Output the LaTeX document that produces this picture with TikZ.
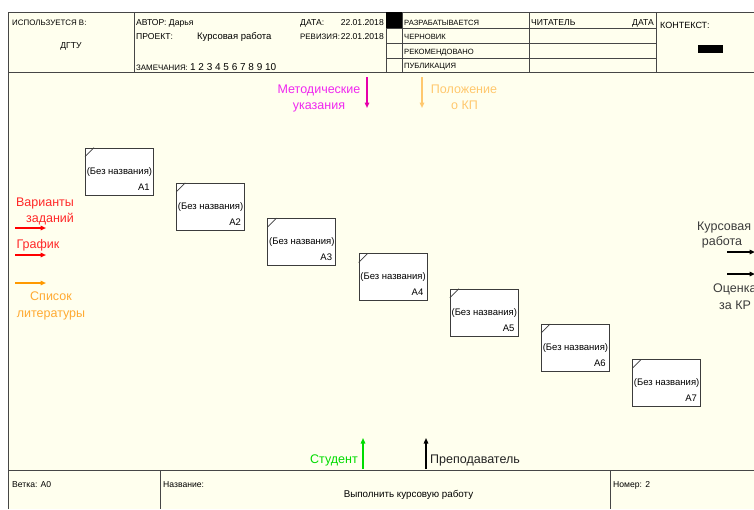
\documentclass[tikz,border=0pt]{standalone}
\usepackage{fontspec}
\setmainfont{Liberation Sans}
\usetikzlibrary{arrows.meta,calc}
\definecolor{cream}{RGB}{255,255,238}
\definecolor{frame}{RGB}{70,70,70}
\definecolor{mytxtmag}{RGB}{240,40,240}
\definecolor{myarrmag}{RGB}{230,0,170}
\definecolor{mylorange}{RGB}{255,200,110}
\definecolor{myorange}{RGB}{255,153,0}
\definecolor{myorangetxt}{RGB}{255,170,50}
\definecolor{myred}{RGB}{255,0,0}
\definecolor{myredtxt}{RGB}{255,40,40}
\definecolor{mygreen}{RGB}{0,220,0}
\definecolor{mygray}{RGB}{60,60,60}
\definecolor{mydark}{RGB}{35,35,35}
\newcommand{\hdrfont}{\fontsize{7.9}{9}\selectfont}
\newcommand{\stfont}{\fontsize{7.6}{9}\selectfont}
\newcommand{\midfont}{\fontsize{8.6}{10}\selectfont}
\newcommand{\lblfont}{\fontsize{12.5}{15}\selectfont}
\newcommand{\boxfont}{\fontsize{9.5}{11}\selectfont}
\begin{document}
\begin{tikzpicture}[x=1pt,y=-1pt,
  hdr/.style={inner sep=0pt,anchor=base west,font=\hdrfont},
  sthdr/.style={inner sep=0pt,anchor=base west,font=\stfont},
  mid/.style={inner sep=0pt,anchor=base west,font=\midfont},
  lbl/.style={inner sep=0pt,anchor=base,font=\lblfont},
  frameline/.style={draw=frame,line width=1pt},
  actbox/.style={draw=mygray,line width=0.9pt,fill=white,minimum width=68pt,minimum height=47pt,inner sep=0pt},
  boxtext/.style={inner sep=0pt,anchor=base,font=\boxfont},
  boxnum/.style={inner sep=0pt,anchor=base east,font=\boxfont},
  flow/.style={line width=1.6pt,-{Triangle[length=5.5pt,width=4.5pt]}}
]
\useasboundingbox (0,0) rectangle (754,509);
\fill[white] (0,0) rectangle (754,509);
\fill[cream] (8,12) rectangle (754,509);
% frame
\draw[frameline] (8,509) -- (8,12) -- (754,12);
\draw[frameline] (8,72) -- (754,72);
\draw[frameline] (8,470) -- (754,470);
\draw[frameline] (134,12) -- (134,72);
\draw[frameline] (386,12) -- (386,72);
\draw[frameline] (402,12) -- (402,72);
\draw[frameline] (529,12) -- (529,72);
\draw[frameline] (656,12) -- (656,72);
\draw[frameline] (386,28) -- (656,28);
\draw[frameline] (386,43) -- (656,43);
\draw[frameline] (386,58) -- (656,58);
\fill[black] (386,12) rectangle (402,28);
\fill[black] (698,45) rectangle (723,53);
\draw[frameline] (160,470) -- (160,509);
\draw[frameline] (610,470) -- (610,509);
% header text
\node[hdr] (usedat) at (12,25.5) {ИСПОЛЬЗУЕТСЯ В:};
\node[inner sep=0pt,anchor=base,font=\midfont] (dgtu) at (71,48) {ДГТУ};
\node[mid] (author) at (136,25.5) {АВТОР: Дарья};
\node[mid] (project) at (136,39.5) {ПРОЕКТ:};
\node[inner sep=0pt,anchor=base west,font=\fontsize{9.5}{11}\selectfont] (projname) at (197,39.5) {Курсовая работа};
\node[mid] (datelbl) at (300,25.5) {ДАТА:};
\node[mid,anchor=base east] (dateval) at (384,25.5) {22.01.2018};
\node[hdr] (revlbl) at (300,39.5) {РЕВИЗИЯ:};
\node[mid,anchor=base east] (revval) at (384,39.5) {22.01.2018};
\node[hdr] (notes) at (136,70) {ЗАМЕЧАНИЯ: {\fontsize{10}{11}\selectfont 1 2 3 4 5 6 7 8 9 10}};
\node[sthdr] (st1) at (404,25.5) {РАЗРАБАТЫВАЕТСЯ};
\node[sthdr] (st2) at (404,39.5) {ЧЕРНОВИК};
\node[sthdr] (st3) at (404,54.5) {РЕКОМЕНДОВАНО};
\node[sthdr] (st4) at (404,68.5) {ПУБЛИКАЦИЯ};
\node[mid] (reader) at (531,25.5) {ЧИТАТЕЛЬ};
\node[mid,anchor=base east] (rdate) at (654,25.5) {ДАТА};
\node[inner sep=0pt,anchor=base west,font=\fontsize{9}{11}\selectfont] (context) at (660,28) {КОНТЕКСТ:};
% footer text
\node[mid] (branch) at (12,487.5) {Ветка: A0};
\node[mid] (namelbl) at (163,487.5) {Название:};
\node[inner sep=0pt,anchor=base,font=\fontsize{9.8}{11}\selectfont] (title) at (408.5,497) {Выполнить курсовую работу};
\node[mid] (number) at (613,487.5) {Номер: 2};
% activity boxes
\foreach \i in {1,...,7}{
  \pgfmathsetmacro{\bx}{85+91.2*(\i-1)}
  \pgfmathsetmacro{\by}{147.5+35.3*(\i-1)}
  \node[actbox,anchor=north west] (A\i) at (\bx,\by) {};
  \draw[mygray,line width=0.7pt] ($(A\i.north west)+(0,9)$) -- ($(A\i.north west)+(9,0)$);
  \node[boxtext] (T\i) at ($(A\i.north)+(0,26.5)$) {(Без названия)};
  \node[boxnum] (N\i) at ($(A\i.north east)+(-4,42.5)$) {A\i};
}
% top controls
\coordinate (mS) at (367,77); \coordinate (mE) at (367,108);
\draw[flow,myarrmag] (mS) -- (mE);
\node[lbl,text=mytxtmag] (met1) at (319,93) {Методические};
\node[lbl,text=mytxtmag] (met2) at (319,109) {указания};
\coordinate (pS) at (422,77); \coordinate (pE) at (422,108);
\draw[flow,mylorange] (pS) -- (pE);
\node[lbl,text=mylorange] (pol1) at (464,93) {Положение};
\node[lbl,text=mylorange] (pol2) at (464.5,109) {о КП};
% left inputs
\node[lbl,text=myredtxt] (var1) at (45,206.5) {Варианты};
\node[lbl,text=myredtxt] (var2) at (50,222) {заданий};
\coordinate (vS) at (15,228); \coordinate (vE) at (46,228);
\draw[flow,myred] (vS) -- (vE);
\node[lbl,text=myredtxt] (graf) at (38,248) {График};
\coordinate (gS) at (15,255); \coordinate (gE) at (46,255);
\draw[flow,myred] (gS) -- (gE);
\coordinate (lS) at (15,283); \coordinate (lE) at (46,283);
\draw[flow,myorange] (lS) -- (lE);
\node[lbl,text=myorangetxt] (lit1) at (51,300) {Список};
\node[lbl,text=myorangetxt] (lit2) at (51,317) {литературы};
% right outputs
\node[lbl,anchor=base west,text=mygray] (out1a) at (697,230) {Курсовая};
\node[lbl,text=mygray] (out1b) at (722,245) {работа};
\coordinate (o1S) at (727,252); \coordinate (o1E) at (755,252);
\draw[flow,black] (o1S) -- (o1E);
\coordinate (o2S) at (727,274); \coordinate (o2E) at (755,274);
\draw[flow,black] (o2S) -- (o2E);
\node[lbl,anchor=base west,text=mygray] (out2a) at (713,292) {Оценка};
\node[lbl,anchor=base west,text=mygray] (out2b) at (719,309) {за КР};
% bottom mechanisms
\coordinate (sS) at (363,469); \coordinate (sE) at (363,438);
\draw[flow,mygreen,line width=1.3pt] (sS) -- (sE);
\node[lbl,anchor=base east,text=mygreen] (stud) at (358,463) {Студент};
\coordinate (tS) at (426,469); \coordinate (tE) at (426,438);
\draw[flow,black,line width=1.3pt] (tS) -- (tE);
\node[lbl,anchor=base west,text=mydark] (teach) at (430,463) {Преподаватель};
\end{tikzpicture}
\end{document}
